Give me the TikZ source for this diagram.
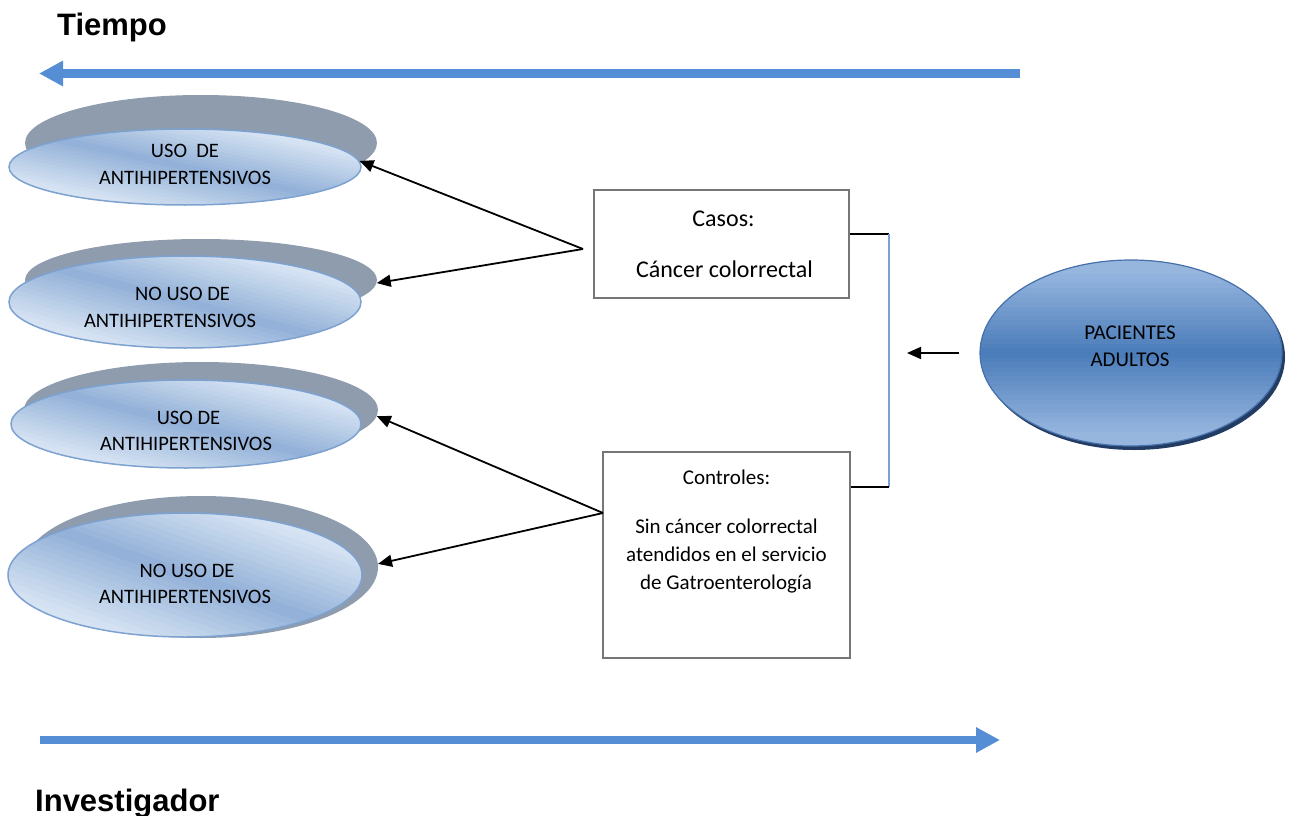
\documentclass[tikz,border=0pt]{standalone}
\usepackage{fontspec}
\setmainfont{Carlito}
\newfontfamily\titlefont{Liberation Sans}
\usetikzlibrary{arrows.meta,shapes.geometric}
\definecolor{bigblue}{RGB}{85,142,213}
\definecolor{shadowgrey}{RGB}{142,156,174}
\definecolor{elight}{RGB}{214,227,243}
\definecolor{edark}{RGB}{146,177,216}
\definecolor{eborder}{RGB}{125,162,208}
\definecolor{plight}{RGB}{150,182,222}
\definecolor{pdark}{RGB}{74,124,186}
\definecolor{pborder}{RGB}{70,112,170}
\definecolor{pshadow}{RGB}{35,60,100}
\definecolor{boxgrey}{RGB}{118,118,118}
\definecolor{bracketblue}{RGB}{125,160,210}
% diagonal gradient inside an ellipse: centre x, centre y, x radius, y radius
\newcommand\gradell[4]{%
  \begin{scope}[shift={(#1,#2)}, xscale=#3, yscale=#4]
    \clip (0,0) circle (1);
    \fill[edark] (-1.1,-1.1) rectangle (1.1,1.1);
    \foreach \k in {-1.5,-1.4,...,1.45} {
      \pgfmathsetmacro\kk{\k+0.12}
      \pgfmathtruncatemacro\p{min(100,100*abs(\k+0.05)/1.3)}
      \fill[elight!\p!edark] (\k-2,-2) -- (\k+2,2) -- (\kk+2,2) -- (\kk-2,-2) -- cycle;
    }
  \end{scope}}
\begin{document}
\begin{tikzpicture}[x=1pt,y=-1pt,
  shadowell/.style={ellipse, fill=shadowgrey, draw=none, inner sep=0pt},
  frontell/.style={ellipse, draw=eborder, line width=1.5pt, inner sep=0pt},
  patshadow/.style={ellipse, fill=pshadow, draw=none, inner sep=0pt},
  patell/.style={ellipse, draw=pborder, line width=1.2pt, inner sep=0pt},
  elltext/.style={anchor=base, inner sep=0pt, font=\fontsize{20.5}{24}\selectfont},
  boxtext/.style={anchor=base, inner sep=0pt, font=\fontsize{21}{25}\selectfont},
  bigtext/.style={anchor=base, inner sep=0pt, font=\fontsize{24}{28}\selectfont},
  titletext/.style={anchor=base west, inner sep=0pt, font=\titlefont\bfseries\fontsize{31}{37}\selectfont},
  stdybox/.style={rectangle, draw=boxgrey, line width=2pt, fill=white, inner sep=0pt},
  conn/.style={draw=black, line width=1.8pt, -{Triangle[length=14pt,width=12pt]}},
  bigarrow/.style={draw=bigblue, line width=8pt, -{Triangle[length=24pt,width=24pt]}},
  brackblack/.style={draw=black, line width=1.5pt},
  brackblue/.style={draw=bracketblue, line width=1.5pt}
]
\useasboundingbox (0,0) rectangle (1290,816);

% titles
\node[titletext] (tiempo) at (57,36) {Tiempo};
\node[titletext] (invest) at (35,811) {Investigador};

% big arrows
\coordinate (ta) at (1020,73.5);
\coordinate (tb) at (39,73.5);
\draw[bigarrow] (ta) -- (tb);
\coordinate (ba) at (40,740);
\coordinate (bb2) at (1000,740);
\draw[bigarrow] (ba) -- (bb2);

% left ellipses
\node[shadowell, minimum width=352pt, minimum height=96pt] (s1) at (201,143) {};
\gradell{185}{167}{176}{38}
\node[frontell, minimum width=352pt, minimum height=76pt] (e1) at (185,167) {};
\node[elltext] (t1a) at (185,157) {USO\ \ DE};
\node[elltext] (t1b) at (185,184) {ANTIHIPERTENSIVOS};

\node[shadowell, minimum width=352pt, minimum height=82pt] (s2) at (201,280) {};
\gradell{185}{302}{176}{46}
\node[frontell, minimum width=352pt, minimum height=92pt] (e2) at (185,302) {};
\node[elltext] (t2a) at (182.5,300) {NO USO DE};
\node[elltext] (t2b) at (170,327) {ANTIHIPERTENSIVOS};

\node[shadowell, minimum width=354pt, minimum height=96pt] (s3) at (201,410) {};
\gradell{186}{424}{175}{44}
\node[frontell, minimum width=350pt, minimum height=88pt] (e3) at (186,424) {};
\node[elltext] (t3a) at (188.5,424) {USO DE};
\node[elltext] (t3b) at (186,450) {ANTIHIPERTENSIVOS};

\node[shadowell, minimum width=354pt, minimum height=142pt] (s4) at (201,567) {};
\gradell{185}{575}{177}{62}
\node[frontell, minimum width=354pt, minimum height=124pt] (e4) at (185,575) {};
\node[elltext] (t4a) at (187,577) {NO USO DE};
\node[elltext] (t4b) at (185,603) {ANTIHIPERTENSIVOS};

% boxes
\node[stdybox, minimum width=255pt, minimum height=108pt] (casos) at (721.5,244) {};
\node[bigtext] (casosa) at (723.5,226) {Casos:};
\node[bigtext] (casosb) at (724.5,277) {Cáncer colorrectal};

\node[stdybox, minimum width=247pt, minimum height=206pt] (ctrl) at (726.5,555) {};
\node[boxtext] (ctrla) at (726.5,484) {Controles:};
\node[boxtext] (ctrlb) at (726.5,533) {Sin cáncer colorrectal};
\node[boxtext] (ctrlc) at (726.5,561) {atendidos en el servicio};
\node[boxtext] (ctrld) at (726,589) {de Gatroenterología};

% patients
\node[patshadow, minimum width=302pt, minimum height=186pt] (pacs) at (1134,357) {};
\begin{scope}[shift={(1131,353)}, xscale=151, yscale=93]
  \clip (0,0) circle (1);
  \fill[pdark] (-1.1,-1.1) rectangle (1.1,1.1);
  \foreach \v in {-1.05,-1,...,1.0} {
    \pgfmathtruncatemacro\p{min(100,115*abs(\v+0.025))}
    \fill[plight!\p!pdark] (-1.1,\v) rectangle (1.1,\v+0.06);
  }
\end{scope}
\node[patell, minimum width=302pt, minimum height=186pt] (pac) at (1131,353) {};
\node[boxtext] (paca) at (1130,339) {PACIENTES};
\node[boxtext] (pacb) at (1130,366) {ADULTOS};

% connectors
\coordinate (capex) at (583,249);
\draw[conn] (capex) -- (e1.2);
\draw[conn] (capex) -- (s2.-1);
\coordinate (kapex) at (603,513);
\draw[conn] (kapex) -- (s3.-2);
\draw[conn] (kapex) -- (s4.1);

% bracket
\coordinate (bt) at (889,234);
\coordinate (bb) at (889,487);
\draw[brackblack] (casos.east |- bt) -- (bt);
\draw[brackblue] (bt) -- (bb);
\draw[brackblack] (bb) -- (ctrl.east |- bb);

% patient arrow
\draw[conn, shorten <=20pt, shorten >=18pt] (pac.west) -- (pac.west -| bb);
\end{tikzpicture}
\end{document}
